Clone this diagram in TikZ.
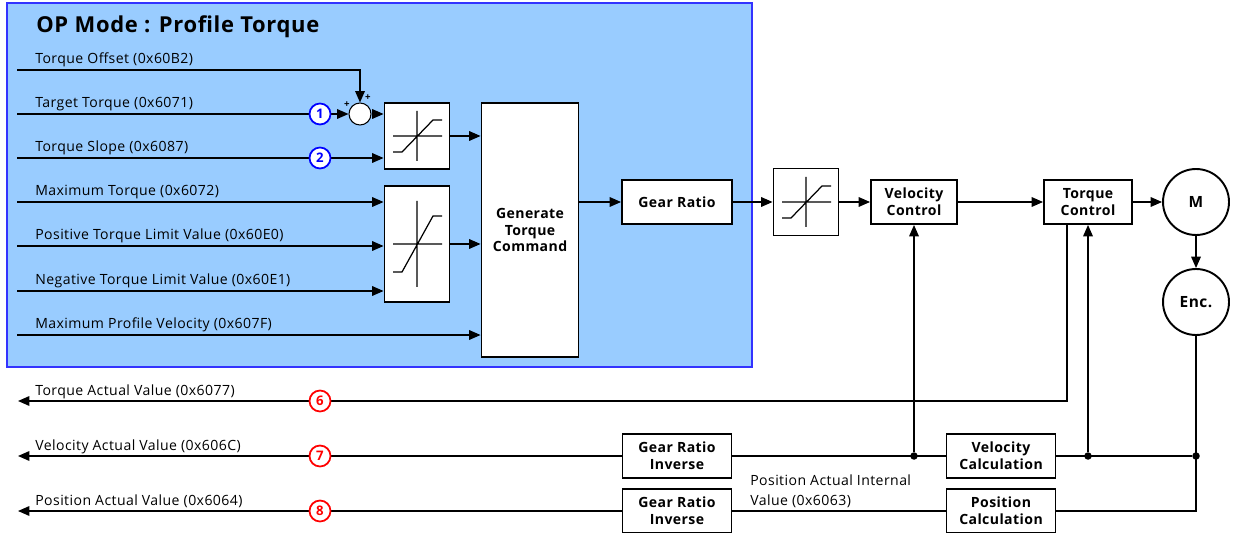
\documentclass[tikz,border=0pt]{standalone}
\usepackage{fontspec}
\setmainfont{Open Sans}[LetterSpace=3]
\usepackage{tikz}
\usetikzlibrary{positioning,arrows.meta}

\definecolor{panelblue}{RGB}{153,204,255}
\definecolor{paneledge}{RGB}{51,51,255}
\definecolor{badgeblue}{RGB}{0,0,255}
\definecolor{badgered}{RGB}{255,0,0}

\tikzset{
  lbl/.style={anchor=base west, inner sep=0pt, font=\fontsize{8}{10}\selectfont},
  blk/.style={draw, line width=1.1pt, fill=white, align=center, inner sep=0pt,
    font=\fontsize{8}{9.6}\selectfont\bfseries},
  lim/.style={blk, minimum width=1.3cm},
  arr/.style={line width=0.7pt, -{Triangle[length=6.5pt,width=5.5pt]}},
  ln/.style={line width=0.7pt},
  dot/.style={circle, fill=black, inner sep=0pt, minimum size=0.15cm},
  badge/.style={circle, draw=#1, text=#1, fill=white, line width=1pt, inner sep=0pt,
    minimum size=0.42cm, font=\fontsize{7.5}{8}\selectfont\bfseries},
  plus/.style={inner sep=0pt, font=\fontsize{5.5}{6}\selectfont\bfseries},
}

\begin{document}
\begin{tikzpicture}[x=0.02cm, y=-0.02cm]
\useasboundingbox (0,0) rectangle (1233,533);

% mode panel
\draw[fill=panelblue, draw=paneledge, line width=0.8pt] (7,3) rectangle (752,367);
\node[anchor=base west, inner sep=0pt, font=\fontsize{12.5}{15}\selectfont\bfseries] (title) at (36,33) {OP Mode : Profile Torque};

% input objects
\foreach \n/\y/\txt in {inOffset/70/Torque Offset (0x60B2),
    inTarget/114/Target Torque (0x6071),
    inSlope/158/Torque Slope (0x6087),
    inMaxT/202/Maximum Torque (0x6072),
    inPosT/246/Positive Torque Limit Value (0x60E0),
    inNegT/291/Negative Torque Limit Value (0x60E1),
    inMaxV/335/Maximum Profile Velocity (0x607F)} {
    \coordinate (\n) at (17,\y);
    \node[lbl] (t\n) at (35,\y-6.5) {\txt};
}

% blocks
\node[circle, draw, fill=white, line width=0.6pt, minimum size=0.44cm, inner sep=0pt] (sum) at (360,114) {};
\node[plus] (plusA) at (347,105) {+};
\node[plus] (plusB) at (368,98) {+};
\node[lim, minimum height=1.32cm] (lim1) at (417,136) {};
\node[lim, minimum height=2.32cm] (lim2) at (417,244) {};
\node[blk, minimum width=1.94cm, minimum height=5.08cm] (gen) at (530,230) {Generate\\Torque\\Command};
\node[blk, minimum width=2.2cm, minimum height=0.88cm] (gear) at (677,202) {Gear Ratio};
\node[lim, minimum height=1.34cm] (lim3) at (806,202) {};
\node[blk, minimum width=1.72cm, minimum height=0.88cm] (velc) at (914,202) {Velocity\\Control};
\node[blk, minimum width=1.76cm, minimum height=0.88cm] (tqc) at (1088,202) {Torque\\Control};
\node[circle, draw, line width=1.1pt, fill=white, minimum size=1.32cm, inner sep=0pt,
  font=\fontsize{8.8}{10}\selectfont\bfseries] (mot) at (1196,202) {M};
\node[circle, draw, line width=1.1pt, fill=white, minimum size=1.32cm, inner sep=0pt,
  font=\fontsize{8.8}{10}\selectfont\bfseries] (enc) at (1196,302) {Enc.};
\node[blk, minimum width=2.18cm, minimum height=0.88cm] (gri1) at (677,456) {Gear Ratio\\Inverse};
\node[blk, minimum width=2.18cm, minimum height=0.88cm] (gri2) at (677,511) {Gear Ratio\\Inverse};
\node[blk, minimum width=2.18cm, minimum height=0.88cm] (velcalc) at (1001,456) {Velocity\\Calculation};
\node[blk, minimum width=2.18cm, minimum height=0.88cm] (posc) at (1001,511) {Position\\Calculation};

% limiter icons
\foreach \n/\h/\s in {lim1/25/16, lim2/43/28, lim3/25/16}
  \draw[ln, shift={(\n.center)}] (-24,0) -- (25,0) (0,-\h) -- (0,\h)
    (-24,\s) -- (-15,\s) -- (16,-\s) -- (25,-\s);

% forward path
\draw[arr] (inOffset) -| (sum.north);
\draw[arr] (inTarget) -- (sum.west);
\draw[arr] (sum.east) -- (sum.east -| lim1.west);
\draw[arr] (inSlope) -- (inSlope -| lim1.west);
\foreach \c in {inMaxT,inPosT,inNegT}
  \draw[arr] (\c) -- (\c -| lim2.west);
\draw[arr] (inMaxV) -- (inMaxV -| gen.west);
\draw[arr] (lim1.east) -- (lim1.east -| gen.west);
\draw[arr] (lim2.east) -- (lim2.east -| gen.west);
\draw[arr] (gear.west -| gen.east) -- (gear.west);
\draw[arr] (gear) -- (lim3);
\draw[arr] (lim3) -- (velc);
\draw[arr] (velc) -- (tqc);
\draw[arr] (tqc) -- (mot);
\draw[arr] (mot) -- (enc);

% feedback path
\coordinate (outTq) at (18,401);
\coordinate (outVel) at (18,456);
\coordinate (outPos) at (18,511);
\coordinate (tqTap) at ([xshift=-0.42cm]tqc.south);
\node[dot] (dVel) at (velc.south |- velcalc.west) {};
\node[dot] (dTq) at (tqc.south |- velcalc.east) {};
\node[dot] (dEnc) at (enc.south |- velcalc.east) {};
\draw[arr] (tqTap) |- (outTq);
\draw[ln] (enc.south) |- (posc.east);
\draw[ln] (dEnc) -- (velcalc.east);
\draw[arr] (dTq) -- (tqc.south);
\draw[ln] (velcalc.west) -- (gri1.east);
\draw[arr] (dVel) -- (velc.south);
\draw[arr] (gri1.west) -- (outVel);
\draw[ln] (posc.west) -- (gri2.east);
\draw[arr] (gri2.west) -- (outPos);

\node[lbl] (tOutTq) at (35,395) {Torque Actual Value (0x6077)};
\node[lbl] (tOutVel) at (35,450) {Velocity Actual Value (0x606C)};
\node[lbl] (tOutPos) at (35,505) {Position Actual Value (0x6064)};
\node[lbl, anchor=north west, align=left, font=\fontsize{8}{11.4}\selectfont] (tPosInt) at (750,474)
  {Position Actual Internal\\Value (0x6063)};

% object markers
\node[badge=badgeblue] (b1) at (320,114) {1};
\node[badge=badgeblue] (b2) at (320,158) {2};
\node[badge=badgered] (b6) at (320,401) {6};
\node[badge=badgered] (b7) at (320,456) {7};
\node[badge=badgered] (b8) at (320,511) {8};
\end{tikzpicture}
\end{document}
